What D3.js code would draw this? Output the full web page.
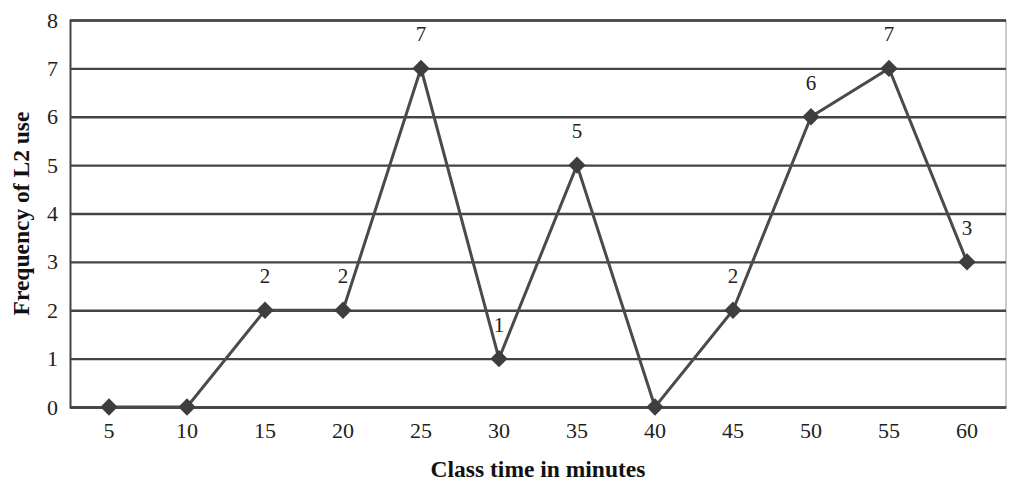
<!DOCTYPE html>
<html><head><meta charset="utf-8">
<script src="https://cdn.jsdelivr.net/npm/d3@7"></script>
<style>body{margin:0;background:#fff}svg{display:block}</style>
</head><body>
<svg id="c" width="1012" height="484"></svg>
<script>
const categories = ["5","10","15","20","25","30","35","40","45","50","55","60"];
const values = [0,0,2,2,7,1,5,0,2,6,7,3];
const yTicks = [0,1,2,3,4,5,6,7,8];
const yTitle = "Frequency of L2 use";
const xTitle = "Class time in minutes";

const W = 1012, H = 484;
const m = {left:70, right:6, top:20, bottom:77};
const svg = d3.select("#c");
const x = d3.scaleBand().domain(categories).range([m.left, W - m.right]);
const y = d3.scaleLinear().domain([0,8]).range([H - m.bottom, m.top]);
const serif = "'Liberation Serif','Times New Roman',serif";

// right border
svg.append("line").attr("x1", W - m.right).attr("x2", W - m.right)
  .attr("y1", m.top).attr("y2", H - m.bottom).attr("stroke", "#bbb").attr("stroke-width", 1.5);

// gridlines + y axis
const yAxis = d3.axisLeft(y).tickValues(yTicks).tickSize(-(W - m.left - m.right)).tickPadding(12).tickFormat(d3.format("d"));
const gy = svg.append("g").attr("transform", `translate(${m.left},0)`).call(yAxis);
gy.select(".domain").attr("stroke", "#444").attr("stroke-width", 2);
gy.selectAll(".tick line").attr("stroke", "#444").attr("stroke-width", 2.4);
gy.selectAll(".tick text").attr("font-family", serif).attr("font-size", 22).attr("fill", "#222");

// x axis
const xAxis = d3.axisBottom(x).tickSize(0).tickPadding(15);
const gx = svg.append("g").attr("transform", `translate(0,${H - m.bottom})`).call(xAxis);
gx.select(".domain").attr("stroke", "#444").attr("stroke-width", 2.4);
gx.selectAll(".tick text").attr("font-family", serif).attr("font-size", 22).attr("fill", "#222");

// line
const cx = d => x(d) + x.bandwidth()/2;
const data = categories.map((c,i) => ({c, v: values[i], i}));
svg.append("path").datum(data)
  .attr("fill", "none").attr("stroke", "#4a4a4a").attr("stroke-width", 3)
  .attr("d", d3.line().x(d => cx(d.c)).y(d => y(d.v)));

// markers
svg.selectAll(".mk").data(data).join("path")
  .attr("transform", d => `translate(${cx(d.c)},${y(d.v)})`)
  .attr("d", d3.symbol().type(d3.symbolDiamond2).size(190))
  .attr("fill", "#3e3e3e");

// labels
svg.selectAll(".lb").data(data.filter(d => d.v > 0)).join("text")
  .attr("x", d => cx(d.c))
  .attr("y", d => y(d.v) - 27)
  .attr("text-anchor", "middle")
  .attr("font-family", serif).attr("font-size", 21).attr("fill", "#222")
  .text(d => d.v);

// titles
svg.append("text").attr("transform", `translate(29,${(m.top + H - m.bottom)/2}) rotate(-90)`)
  .attr("text-anchor", "middle").attr("font-family", serif).attr("font-weight", "bold")
  .attr("font-size", 23.5).attr("fill", "#111").text(yTitle);
svg.append("text").attr("x", (m.left + W - m.right)/2).attr("y", 477)
  .attr("text-anchor", "middle").attr("font-family", serif).attr("font-weight", "bold")
  .attr("font-size", 23.5).attr("fill", "#111").text(xTitle);
</script>
</body></html>
